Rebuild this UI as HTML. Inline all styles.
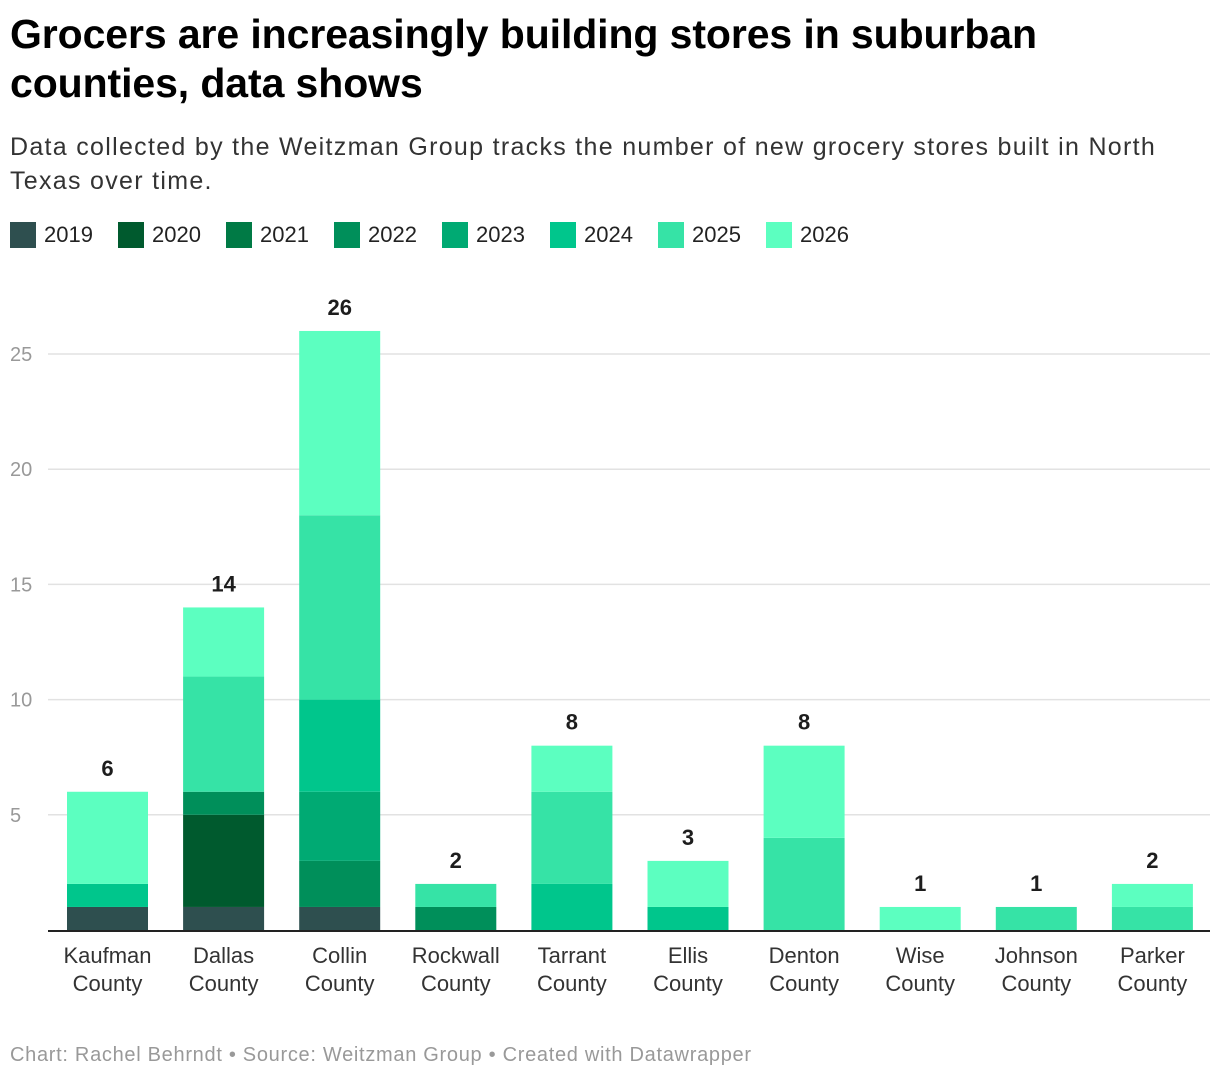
<!DOCTYPE html>
<html><head><meta charset="utf-8"><style>
body{margin:0;width:1220px;height:1080px;background:#fff;font-family:"Liberation Sans",Roboto,sans-serif;color:#1d1d1d;position:relative;overflow:hidden}
h1{position:absolute;left:10px;top:10px;margin:0;font-size:41px;line-height:49px;font-weight:bold;letter-spacing:-0.1px;white-space:nowrap;color:#000}
.sub{position:absolute;left:10px;top:130px;font-size:25px;line-height:34px;color:#333;letter-spacing:1.3px;white-space:nowrap}
.legend{position:absolute;left:10px;top:222px;display:flex;font-size:22px;color:#222}
.li{display:flex;align-items:center;width:108px}
.sw{width:26px;height:26px;margin-right:8px}
.foot{position:absolute;left:10px;top:1044px;font-size:20px;color:#999;letter-spacing:0.7px;white-space:nowrap}
svg{position:absolute;left:0;top:0}
</style></head><body>
<h1>Grocers are increasingly building stores in suburban<br>counties, data shows</h1>
<div class="sub">Data collected by the Weitzman Group tracks the number of new grocery stores built in North<br>Texas over time.</div>
<div class="legend" id="legend"></div>
<svg id="chart" width="1220" height="1080"></svg>
<div class="foot">Chart: Rachel Behrndt • Source: Weitzman Group • Created with Datawrapper</div>
<script>
const categories=["Kaufman County","Dallas County","Collin County","Rockwall County","Tarrant County","Ellis County","Denton County","Wise County","Johnson County","Parker County"];
const years=["2019","2020","2021","2022","2023","2024","2025","2026"];
const colors=["#2e4f4f","#005a2e","#007a45","#008f5a","#00aa73","#00c68c","#36e3a6","#5cffc0"];
const v2019=[1,1,1,0,0,0,0,0,0,0];
const v2020=[0,4,0,0,0,0,0,0,0,0];
const v2021=[0,0,0,0,0,0,0,0,0,0];
const v2022=[0,1,2,1,0,0,0,0,0,0];
const v2023=[0,0,3,0,0,0,0,0,0,0];
const v2024=[1,0,4,0,2,1,0,0,0,0];
const v2025=[0,5,8,1,4,0,4,0,1,1];
const v2026=[4,3,8,0,2,2,4,1,0,1];
const yTicks=[5,10,15,20,25];
const series=[v2019,v2020,v2021,v2022,v2023,v2024,v2025,v2026];
const NS="http://www.w3.org/2000/svg";
const svg=document.getElementById('chart');
const x0=48,x1=1210,base=930,unit=(930-354)/25;
const y=v=>base-v*unit;
const step=116.1,bw=81;
const xc=i=>107.5+i*step;
function mk(t,a){const e=document.createElementNS(NS,t);for(const k in a)e.setAttribute(k,a[k]);svg.appendChild(e);return e;}
const lg=document.getElementById('legend');
years.forEach((yr,k)=>{const d=document.createElement('div');d.className='li';


d.innerHTML='<div class="sw" style="background:'+colors[k]+'"></div>'+yr;lg.appendChild(d);});
yTicks.forEach(t=>{
const l=mk('line',{x1:x0,x2:x1,y1:y(t),y2:y(t),stroke:'#e2e2e2','stroke-width':1.5});


const tx=mk('text',{x:10,y:y(t)+7,'font-size':20,fill:'#999'});tx.textContent=t;


});
categories.forEach((c,i)=>{
let acc=0;
series.forEach((s,k)=>{if(s[i]>0){
const r=mk('rect',{x:xc(i)-bw/2,y:y(acc+s[i]),width:bw,height:s[i]*unit,fill:colors[k]});


acc+=s[i];}});
const tl=mk('text',{x:xc(i),y:y(acc)-16,'font-size':22,'font-weight':'bold','text-anchor':'middle',fill:'#1d1d1d'});tl.textContent=acc;


const w=c.split(' ');
w.forEach((p,j)=>{const t=mk('text',{x:xc(i),y:963+j*28,'font-size':22,'text-anchor':'middle',fill:'#333'});t.textContent=p;

});
});
const b=mk('line',{x1:x0,x2:x1,y1:base+1,y2:base+1,stroke:'#222','stroke-width':2});


</script>
</body></html>
